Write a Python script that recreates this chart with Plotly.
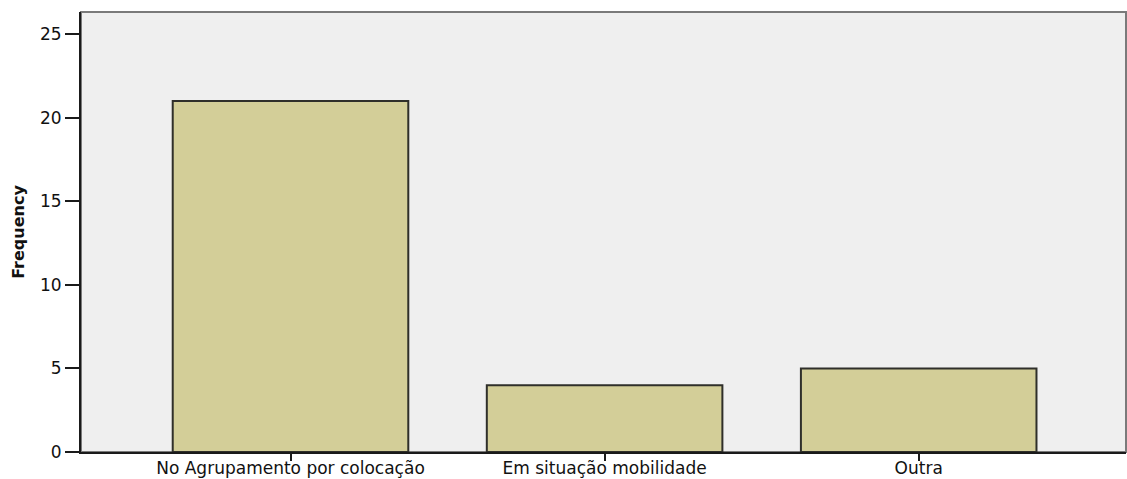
import plotly.graph_objects as go

# Frequency table
categories = ["No Agrupamento por colocação", "Em situação mobilidade", "Outra"]
frequencies = [21, 4, 5]
y_ticks = [0, 5, 10, 15, 20, 25]

BAR_FILL = "#d3ce98"
BAR_EDGE = "#2f2f2a"
PLOT_BG = "#efefef"
FONT = "DejaVu Sans, Liberation Sans, Arial"

fig = go.Figure(
    go.Bar(
        x=list(range(len(categories))),
        y=frequencies,
        width=0.75,
        marker=dict(color=BAR_FILL, line=dict(color=BAR_EDGE, width=2)),
        hoverinfo="x+y",
    )
)

fig.update_layout(
    width=1127,
    height=479,
    margin=dict(l=81, r=1, t=12, b=27, pad=0),
    paper_bgcolor="white",
    plot_bgcolor=PLOT_BG,
    showlegend=False,
    font=dict(family=FONT, color="#111111"),
    shapes=[
        dict(
            type="rect", xref="paper", yref="paper",
            x0=0, x1=1, y0=0, y1=1,
            line=dict(color="#7a7a7a", width=2),
            layer="below",
        )
    ],
)

fig.update_xaxes(
    tickmode="array",
    tickvals=list(range(len(categories))),
    ticktext=categories,
    range=[-0.667, 2.66],
    showgrid=False,
    zeroline=False,
    showline=True,
    linecolor="#1a1a1a",
    linewidth=2,
    ticks="outside",
    ticklen=7,
    tickwidth=1.5,
    tickcolor="#1a1a1a",
    tickfont=dict(size=17),
    ticklabelstandoff=-7,
    automargin=False,
    fixedrange=True,
)

fig.update_yaxes(
    tickmode="array",
    tickvals=y_ticks,
    ticktext=[str(v) for v in y_ticks],
    range=[0, 26.33],
    showgrid=False,
    zeroline=False,
    showline=True,
    linecolor="#1a1a1a",
    linewidth=2,
    ticks="outside",
    ticklen=14,
    tickwidth=2,
    tickcolor="#1a1a1a",
    tickfont=dict(size=17),
    ticklabelstandoff=0,
    automargin=False,
    title=dict(
        text="Frequency",
        font=dict(size=16, family=FONT, weight="bold"),
        standoff=11,
    ),
    fixedrange=True,
)

fig.write_html("out.html")
